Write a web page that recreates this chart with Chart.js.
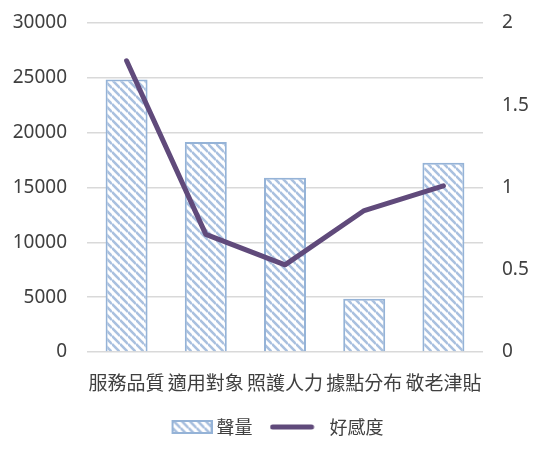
<!DOCTYPE html>
<html>
<head>
<meta charset="utf-8">
<script src="https://cdn.jsdelivr.net/npm/chart.js@4.4.0/dist/chart.umd.min.js"></script>
<style>
  html, body { margin: 0; padding: 0; background: #fff; }
  #wrap { width: 541px; height: 459px; position: relative; }
</style>
</head>
<body>
<div id="wrap"><canvas id="grafico"></canvas></div>
<script>
// datos
const categorias = ['服務品質', '適用對象', '照護人力', '據點分布', '敬老津貼'];
const volumen = [24850, 19150, 15900, 4850, 17250];
const favorabilidad = [1.77, 0.715, 0.53, 0.86, 1.01];
const ticksIzq = [0, 5000, 10000, 15000, 20000, 25000, 30000];
const ticksDer = [0, 0.5, 1, 1.5, 2];
const nombreBarras = '聲量';
const nombreLinea = '好感度';

const colorBorde = '#95B3D7';
const colorRaya = '#A9C0DF';
const colorLinea = '#604A7B';
const colorTexto = '#404040';
const fuente = "'Noto Sans CJK TC', 'Noto Sans', sans-serif";
const fuenteNum = "'Noto Sans', 'Noto Sans CJK TC', sans-serif";

// patron de rayas diagonales
function crearPatron() {
    const s = 8;
    const c = document.createElement('canvas');
    c.width = s; c.height = s;
    const ctx = c.getContext('2d');
    ctx.fillStyle = '#fff';
    ctx.fillRect(0, 0, s, s);
    ctx.strokeStyle = colorRaya;
    ctx.lineWidth = 2.6;
    for (let k = -1; k <= 1; k++) {
        ctx.beginPath();
        ctx.moveTo(0, k * s);
        ctx.lineTo(s, s + k * s);
        ctx.stroke();
    }
    return document.createElement('canvas').getContext('2d').createPattern(c, 'repeat');
}
const patron = crearPatron();

// muestras para la leyenda (imagen mas ancha que la caja para ajustar huecos)
function crearMuestraBarra() {
    const c = document.createElement('canvas');
    c.width = 56; c.height = 14;
    const ctx = c.getContext('2d');
    ctx.fillStyle = patron;
    ctx.fillRect(15, 0, 41, 14);
    ctx.strokeStyle = colorBorde;
    ctx.lineWidth = 2;
    ctx.strokeRect(16, 1, 39, 12);
    return c;
}
function crearMuestraLinea() {
    const c = document.createElement('canvas');
    c.width = 56; c.height = 14;
    const ctx = c.getContext('2d');
    ctx.strokeStyle = colorLinea;
    ctx.lineWidth = 5;
    ctx.lineCap = 'round';
    ctx.beginPath();
    ctx.moveTo(3, 7);
    ctx.lineTo(42, 7);
    ctx.stroke();
    return c;
}
const muestraBarra = crearMuestraBarra();
const muestraLinea = crearMuestraLinea();

// quitar el relleno extra que el eje vertical pide arriba y abajo
function sinRellenoVertical(eje) {
    eje.paddingTop = 0;
    eje.paddingBottom = 0;
}

const ctx = document.getElementById('grafico').getContext('2d');
new Chart(ctx, {
    type: 'bar',
    data: {
        labels: categorias,
        datasets: [
            {
                type: 'line',
                label: nombreLinea,
                data: favorabilidad,
                yAxisID: 'yDer',
                borderColor: colorLinea,
                backgroundColor: colorLinea,
                borderWidth: 5,
                borderCapStyle: 'round',
                borderJoinStyle: 'round',
                pointRadius: 0,
                tension: 0
            },
            {
                type: 'bar',
                label: nombreBarras,
                data: volumen,
                yAxisID: 'yIzq',
                backgroundColor: patron,
                borderColor: colorBorde,
                borderWidth: 2,
                barPercentage: 0.53,
                categoryPercentage: 1
            }
        ]
    },
    options: {
        responsive: true,
        maintainAspectRatio: false,
        animation: false,
        layout: { padding: { left: 4, right: 0, top: 23, bottom: 13 } },
        plugins: {
            tooltip: { enabled: false },
            legend: {
                position: 'bottom',
                labels: {
                    usePointStyle: true,
                    pointStyleWidth: 46,
                    padding: 22,
                    color: colorTexto,
                    font: { family: fuente, size: 18 },
                    generateLabels: function () {
                        return [
                            { text: nombreBarras, pointStyle: muestraBarra, fillStyle: patron, strokeStyle: colorBorde, lineWidth: 0, fontColor: colorTexto, datasetIndex: 1 },
                            { text: nombreLinea, pointStyle: muestraLinea, fillStyle: colorLinea, strokeStyle: colorLinea, lineWidth: 0, fontColor: colorTexto, datasetIndex: 0 }
                        ];
                    }
                }
            }
        },
        scales: {
            x: {
                grid: { display: false },
                border: { display: false },
                afterFit: function (eje) { eje.height = 44; },
                ticks: { color: colorTexto, padding: 11, font: { family: fuente, size: 19 }, maxRotation: 0, autoSkip: false }
            },
            yIzq: {
                position: 'left',
                min: 0,
                max: 30000,
                afterBuildTicks: function (eje) { eje.ticks = ticksIzq.map(v => ({ value: v })); },
                afterFit: function (eje) { eje.width = 83; sinRellenoVertical(eje); },
                grid: { color: '#D9D9D9', lineWidth: 1.5, drawTicks: false },
                border: { display: false },
                ticks: { color: colorTexto, padding: 20, font: { family: fuenteNum, size: 19 }, callback: v => String(v) }
            },
            yDer: {
                position: 'right',
                min: 0,
                max: 2,
                afterBuildTicks: function (eje) { eje.ticks = ticksDer.map(v => ({ value: v })); },
                afterFit: function (eje) { eje.width = 58; sinRellenoVertical(eje); },
                grid: { display: false, drawTicks: false },
                border: { display: false },
                ticks: { color: colorTexto, padding: 19, font: { family: fuenteNum, size: 19 }, callback: v => String(v) }
            }
        }
    }
});
</script>
</body>
</html>
